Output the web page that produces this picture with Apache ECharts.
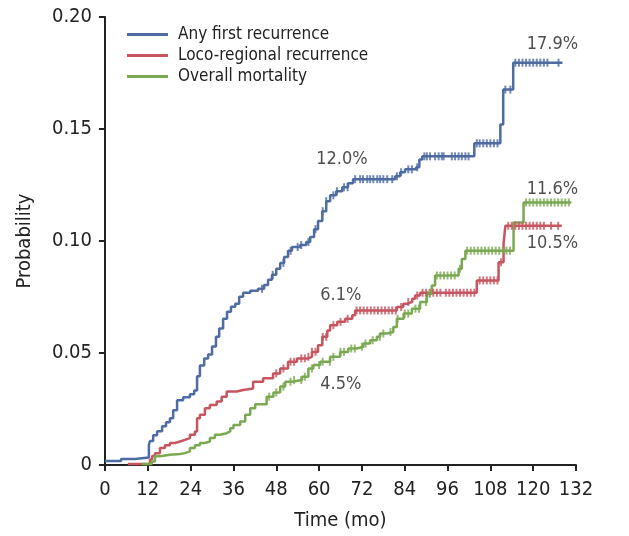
<!DOCTYPE html>
<html>
<head>
<meta charset="utf-8">
<script src="https://cdn.jsdelivr.net/npm/echarts@6/dist/echarts.min.js"></script>
<style>
  html, body { margin: 0; padding: 0; background: #fff; }
  #chart { width: 629px; height: 536px; }
</style>
</head>
<body>
<div id="chart"></div>
<script>
// cumulative incidence, step after each time point (months)
const anyFirstT = [0, 4.5, 8.4, 12.3, 12.6, 13.5, 14.6, 16, 17.1, 18.2, 19.1, 20.2, 21.9, 23.8, 25, 25.8, 26.6, 27.8, 28.9, 30, 31.1, 32, 33.1, 34.2, 35.3, 36.5, 37.6, 38.7, 40.7, 42.9, 44.6, 45.7, 46.8, 48, 49.1, 50.2, 51.3, 52.4, 54.7, 56.4, 57.5, 58.6, 59.7, 60.9, 62, 63.1, 64.8, 66.5, 68.1, 69.5, 81.3, 82.7, 84.1, 87.2, 88.1, 88.9, 103.5, 110.8, 111.6, 114.4, 128.2]
const anyFirstP = [0.0018, 0.0027, 0.0033, 0.0089, 0.0107, 0.0133, 0.0151, 0.0173, 0.0191, 0.0209, 0.0244, 0.0289, 0.0302, 0.0316, 0.0333, 0.0396, 0.0444, 0.0476, 0.0493, 0.0529, 0.0573, 0.0609, 0.0653, 0.0684, 0.0707, 0.072, 0.0751, 0.0769, 0.0778, 0.0787, 0.0804, 0.0827, 0.0849, 0.0876, 0.0902, 0.0929, 0.0956, 0.0973, 0.0982, 0.0996, 0.1018, 0.1053, 0.1089, 0.1133, 0.1178, 0.1204, 0.1222, 0.124, 0.1258, 0.1276, 0.1289, 0.1307, 0.132, 0.1329, 0.1364, 0.1378, 0.1436, 0.152, 0.1676, 0.1796, 0.1796]
const anyFirstCensor = [44, 47, 50, 52, 54, 55, 57, 59, 61, 62, 64, 65, 67, 68, 70.1, 71.5, 72.3, 73.5, 74.3, 75.2, 76.3, 77.1, 78, 79.1, 80.5, 81.8, 83, 85, 86, 87.5, 89.5, 90.2, 91.1, 92.5, 93.5, 94.4, 94.9, 97.2, 98.1, 99.1, 100, 101, 101.9, 104.2, 105, 106, 107, 108, 109, 110, 112.2, 113.6, 115, 116, 117, 118, 119, 120, 121, 122, 123, 124, 127.1]

const locoT = [6.4, 12.6, 13.2, 14, 15.4, 16.8, 18.2, 19.6, 21, 22.4, 23.8, 25.2, 25.8, 26.6, 28, 29.4, 31.3, 32.7, 34.1, 36.9, 38.7, 41.5, 44.3, 47.1, 49.1, 51.3, 53.8, 56.9, 58, 59.7, 60.9, 62.3, 63.1, 65.1, 67.3, 69.3, 70.1, 81.8, 83.6, 84.7, 86.1, 86.9, 88.3, 104.2, 110.3, 111.7, 112.2, 128]
const locoP = [0.0004, 0.0024, 0.004, 0.0053, 0.0076, 0.0088, 0.0098, 0.0105, 0.0112, 0.012, 0.0135, 0.015, 0.0209, 0.0224, 0.0253, 0.0268, 0.0283, 0.0305, 0.0328, 0.0335, 0.0342, 0.0372, 0.0387, 0.0409, 0.0431, 0.0461, 0.0476, 0.0483, 0.0505, 0.0535, 0.0572, 0.0601, 0.0624, 0.0639, 0.0653, 0.0668, 0.069, 0.0705, 0.072, 0.0728, 0.0742, 0.0757, 0.0769, 0.0824, 0.0905, 0.0987, 0.1068, 0.1068]
const locoCensor = [48, 50, 52, 53, 55, 56, 57, 58, 59, 61, 62, 64, 66, 68, 70.5, 71.5, 72.5, 73.5, 74.5, 75.5, 76.5, 77.5, 78.5, 79.5, 80.5, 81.5, 83, 85, 87.5, 89, 90, 91, 92, 93, 94, 95.5, 96.5, 97.5, 98.5, 99.5, 100.5, 101.5, 102.5, 103.5, 105, 106, 107, 108, 109, 110, 111, 113, 114, 115, 116, 117, 118, 119, 120, 121, 122, 123, 125, 127]

const mortT = [10.3, 13.1, 14, 15.4, 18.2, 21, 22.4, 23.8, 25.2, 26.6, 28, 29.4, 30.8, 32.2, 34.1, 35.1, 36, 37.9, 39.3, 40.7, 42.1, 45.3, 47.2, 49.1, 50.5, 52.4, 55.2, 57, 58.4, 60.3, 63.1, 65.9, 68.2, 70.6, 72.4, 74.3, 76.2, 77.1, 79, 80.8, 81.8, 83.7, 86, 88.3, 90.2, 91.6, 92.5, 99.1, 100, 101, 114.5, 117.3, 130.7]
const mortP = [0.0004, 0.0016, 0.0039, 0.0046, 0.0049, 0.0053, 0.0061, 0.0076, 0.0088, 0.0098, 0.0105, 0.012, 0.0135, 0.0142, 0.015, 0.0164, 0.0179, 0.0194, 0.0224, 0.0253, 0.0271, 0.0305, 0.0324, 0.035, 0.0372, 0.0379, 0.0394, 0.0431, 0.0446, 0.0461, 0.0483, 0.0505, 0.052, 0.0528, 0.0542, 0.0557, 0.0572, 0.0587, 0.0594, 0.0616, 0.0653, 0.0676, 0.0698, 0.0728, 0.0764, 0.0801, 0.0846, 0.0876, 0.092, 0.0957, 0.1083, 0.1172, 0.1172]
const mortCensor = [46, 48, 50, 52, 53, 55, 56, 58, 60, 61, 63, 64, 66, 67, 69, 70, 72, 73, 75, 77, 78, 80, 82, 84, 85, 87, 88, 90, 91, 93, 94, 95, 96, 97, 98, 99.5, 101.5, 102.5, 103.5, 104.5, 105.5, 106.5, 107.5, 108.5, 109.5, 110.5, 111.5, 112.5, 113.5, 118, 119, 120, 121, 122, 123, 124, 125, 126, 127, 128, 129, 130]

const seriesNames = ['Any first recurrence', 'Loco-regional recurrence', 'Overall mortality']
const seriesColors = ['#4e6ca1', '#c65560', '#7aa952']
const yTickLabels = ['0', '0.05', '0.10', '0.15', '0.20']

// [month, probability, text]
const annotations = [
  [125.4, 0.1878, '17.9%'],
  [66.4, 0.1364, '12.0%'],
  [125.4, 0.1229, '11.6%'],
  [125.4, 0.0989, '10.5%'],
  [66.1, 0.0757, '6.1%'],
  [66.1, 0.0362, '4.5%']
]

const FONT = '"Liberation Sans Narrow", "DejaVu Sans Condensed", sans-serif'

function stepValue(times, probs, t) {
  let v = probs[0]
  for (let i = 0; i < times.length; i++) {
    if (times[i] <= t) v = probs[i]
  }
  return v
}

function curve(name, color, times, probs) {
  return {
    name,
    type: 'line',
    step: 'end',
    showSymbol: false,
    lineStyle: { width: 2.5, color },
    itemStyle: { color },
    data: times.map((t, i) => [t, probs[i]]),
    z: 3
  }
}

function censorMarks(color, times, probs, censor) {
  return {
    type: 'scatter',
    symbol: 'rect',
    symbolSize: [2, 8],
    itemStyle: { color },
    silent: true,
    data: censor.map((c) => [c, stepValue(times, probs, c)]),
    z: 4
  }
}

const chart = echarts.init(document.getElementById('chart'))

chart.setOption({
  animation: false,
  backgroundColor: '#fff',
  grid: { left: 105, right: 53, top: 17, bottom: 69 },
  legend: {
    orient: 'vertical',
    left: 127,
    top: 24,
    padding: 0,
    icon: 'rect',
    itemWidth: 41,
    itemHeight: 3,
    itemGap: 0,
    data: seriesNames,
    textStyle: { fontFamily: FONT, fontSize: 17, color: '#222', lineHeight: 21, padding: [0, 0, 0, 5] }
  },
  xAxis: {
    type: 'value',
    min: 0,
    max: 132,
    interval: 12,
    name: 'Time (mo)',
    nameLocation: 'middle',
    nameGap: 46,
    nameTextStyle: { fontFamily: FONT, fontSize: 20, color: '#222' },
    axisLine: { lineStyle: { color: '#222', width: 2 } },
    axisTick: { show: true, length: 6, lineStyle: { color: '#222', width: 2 } },
    axisLabel: { fontFamily: FONT, fontSize: 20, color: '#222', margin: 15 },
    splitLine: { show: false }
  },
  yAxis: {
    type: 'value',
    min: 0,
    max: 0.2,
    interval: 0.05,
    name: 'Probability',
    nameLocation: 'middle',
    nameGap: 70,
    nameTextStyle: { fontFamily: FONT, fontSize: 20, color: '#222' },
    axisLine: { show: true, lineStyle: { color: '#222', width: 2 } },
    axisTick: { show: true, length: 6, lineStyle: { color: '#222', width: 2 } },
    axisLabel: {
      fontFamily: FONT,
      fontSize: 20,
      color: '#222',
      margin: 13,
      formatter: (v) => yTickLabels[Math.round(v / 0.05)]
    },
    splitLine: { show: false }
  },
  series: [
    curve(seriesNames[0], seriesColors[0], anyFirstT, anyFirstP),
    curve(seriesNames[1], seriesColors[1], locoT, locoP),
    curve(seriesNames[2], seriesColors[2], mortT, mortP),
    censorMarks(seriesColors[0], anyFirstT, anyFirstP, anyFirstCensor),
    censorMarks(seriesColors[1], locoT, locoP, locoCensor),
    censorMarks(seriesColors[2], mortT, mortP, mortCensor),
    {
      type: 'scatter',
      symbolSize: 0,
      silent: true,
      data: annotations.map((a) => ({ value: [a[0], a[1]], text: a[2] })),
      label: {
        show: true,
        position: 'inside',
        fontFamily: FONT,
        fontSize: 18,
        color: '#222',
        formatter: (p) => p.data.text
      },
      z: 5
    }
  ]
})
</script>
</body>
</html>
